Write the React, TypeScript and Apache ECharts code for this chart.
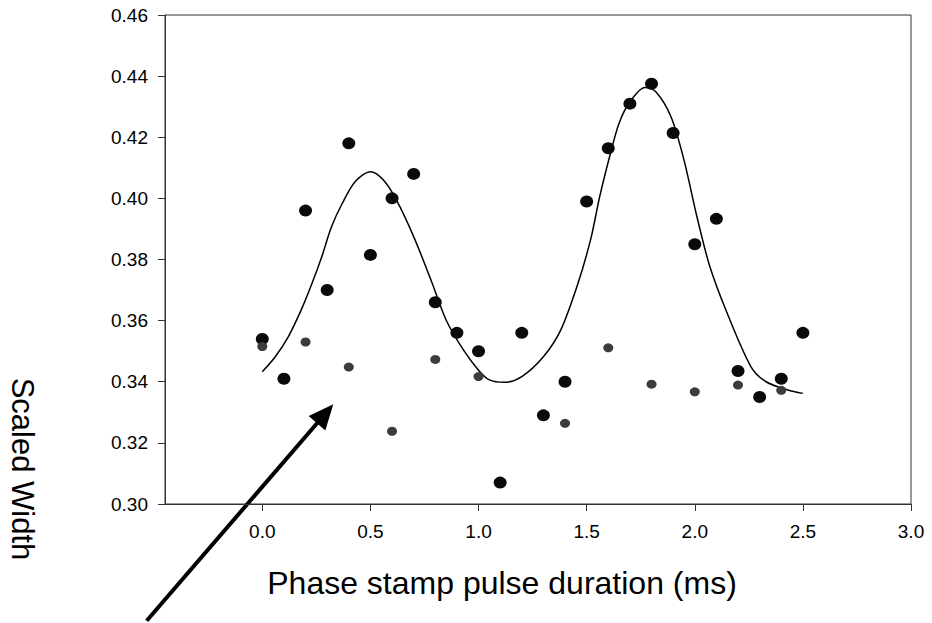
import React, { useEffect, useRef } from "react";
import * as echarts from "echarts";

const blackX = [0, 0.1, 0.2, 0.3, 0.4, 0.5, 0.6, 0.7, 0.8, 0.9, 1.0, 1.1, 1.2, 1.3, 1.4, 1.5, 1.6, 1.7, 1.8, 1.9, 2.0, 2.1, 2.2, 2.3, 2.4, 2.5];
const blackY = [0.354, 0.341, 0.396, 0.37, 0.418, 0.3815, 0.4, 0.408, 0.366, 0.356, 0.35, 0.307, 0.356, 0.329, 0.34, 0.399, 0.4164, 0.431, 0.4375, 0.4214, 0.385, 0.3933, 0.3435, 0.335, 0.341, 0.356];

const grayX = [0, 0.2, 0.4, 0.6, 0.8, 1.0, 1.4, 1.6, 1.8, 2.0, 2.2, 2.4];
const grayY = [0.3515, 0.353, 0.3448, 0.3238, 0.3473, 0.3417, 0.3264, 0.3511, 0.3392, 0.3367, 0.3389, 0.3372];

const curveX = [0, 0.06, 0.12, 0.18, 0.23, 0.275, 0.32, 0.37, 0.43, 0.5, 0.56, 0.62, 0.7, 0.78, 0.85, 0.93, 1.0, 1.05, 1.12, 1.2, 1.3, 1.38, 1.46, 1.52, 1.56, 1.61, 1.65, 1.7, 1.77, 1.82, 1.89, 1.95, 2.01, 2.07, 2.15, 2.26, 2.33, 2.43, 2.5];
const curveY = [0.3433, 0.3482, 0.3547, 0.3635, 0.3722, 0.3809, 0.3907, 0.3984, 0.4055, 0.4087, 0.406, 0.3995, 0.3875, 0.3733, 0.3602, 0.3504, 0.3438, 0.3406, 0.3398, 0.3417, 0.3482, 0.3569, 0.3722, 0.387, 0.4005, 0.4147, 0.4246, 0.4316, 0.4363, 0.4349, 0.4267, 0.4126, 0.394, 0.3776, 0.3624, 0.3449, 0.34, 0.3373, 0.3362];

const xTicks = [0, 0.5, 1.0, 1.5, 2.0, 2.5, 3.0];

const FONT = "'Liberation Sans', Arial, sans-serif";

export default function App() {
  const ref = useRef<HTMLDivElement>(null);
  useEffect(() => {
    document.body.style.margin = "0";
    const chart = echarts.init(ref.current!, null, { renderer: "svg" });
    const axisLine = { show: true, onZero: false, lineStyle: { color: "#333", width: 1 } };
    chart.setOption({
      animation: false,
      backgroundColor: "#fff",
      grid: { left: 165, right: 21, top: 15, bottom: 119, show: true, borderColor: "#333", borderWidth: 1 },
      xAxis: {
        type: "value",
        min: -0.45,
        max: 3.0,
        axisLine,
        axisTick: { show: true, length: 7, inside: false, customValues: xTicks, lineStyle: { color: "#333" } },
        axisLabel: {
          customValues: xTicks,
          margin: 18,
          fontSize: 19,
          fontFamily: FONT,
          color: "#000",
          formatter: (v: number) => v.toFixed(1),
        },
        splitLine: { show: false },
      },
      yAxis: {
        type: "value",
        min: 0.3,
        max: 0.46,
        interval: 0.02,
        axisLine,
        axisTick: { show: true, length: 7, inside: false, lineStyle: { color: "#333" } },
        axisLabel: {
          margin: 17,
          fontSize: 19,
          fontFamily: FONT,
          color: "#000",
          formatter: (v: number) => v.toFixed(2),
        },
        splitLine: { show: false },
      },
      series: [
        {
          type: "line",
          data: curveX.map((x, i) => [x, curveY[i]]),
          showSymbol: false,
          smooth: 0.3,
          lineStyle: { color: "#000", width: 1.5 },
          z: 2,
        },
        {
          type: "scatter",
          data: blackX.map((x, i) => [x, blackY[i]]),
          symbol: "circle",
          symbolSize: [13, 12],
          itemStyle: { color: "#0a0a0a", opacity: 1 },
          z: 3,
        },
        {
          type: "scatter",
          data: grayX.map((x, i) => [x, grayY[i]]),
          symbol: "circle",
          symbolSize: [10, 9],
          itemStyle: { color: "#3c3c3c", opacity: 1 },
          z: 4,
        },
      ],
      graphic: [
        {
          type: "text",
          x: 22,
          y: 469,
          rotation: -Math.PI / 2,
          style: {
            text: "Scaled Width",
            font: "31px 'Liberation Sans', Arial, sans-serif",
            fill: "#000",
            textAlign: "center",
            textVerticalAlign: "middle",
          },
        },
        {
          type: "text",
          x: 502,
          y: 583,
          style: {
            text: "Phase stamp pulse duration (ms)",
            font: "32px 'Liberation Sans', Arial, sans-serif",
            fill: "#000",
            textAlign: "center",
            textVerticalAlign: "middle",
          },
        },
        {
          type: "line",
          shape: { x1: 146.7, y1: 620.7, x2: 319, y2: 421 },
          style: { stroke: "#000", lineWidth: 4 },
        },
        {
          type: "polygon",
          shape: { points: [[333.3, 404.3], [308.7, 416], [325.3, 430.4]] },
          style: { fill: "#000" },
        },
      ],
    });
    return () => chart.dispose();
  }, []);
  return <div ref={ref} style={{ width: 932, height: 623 }} />;
}
